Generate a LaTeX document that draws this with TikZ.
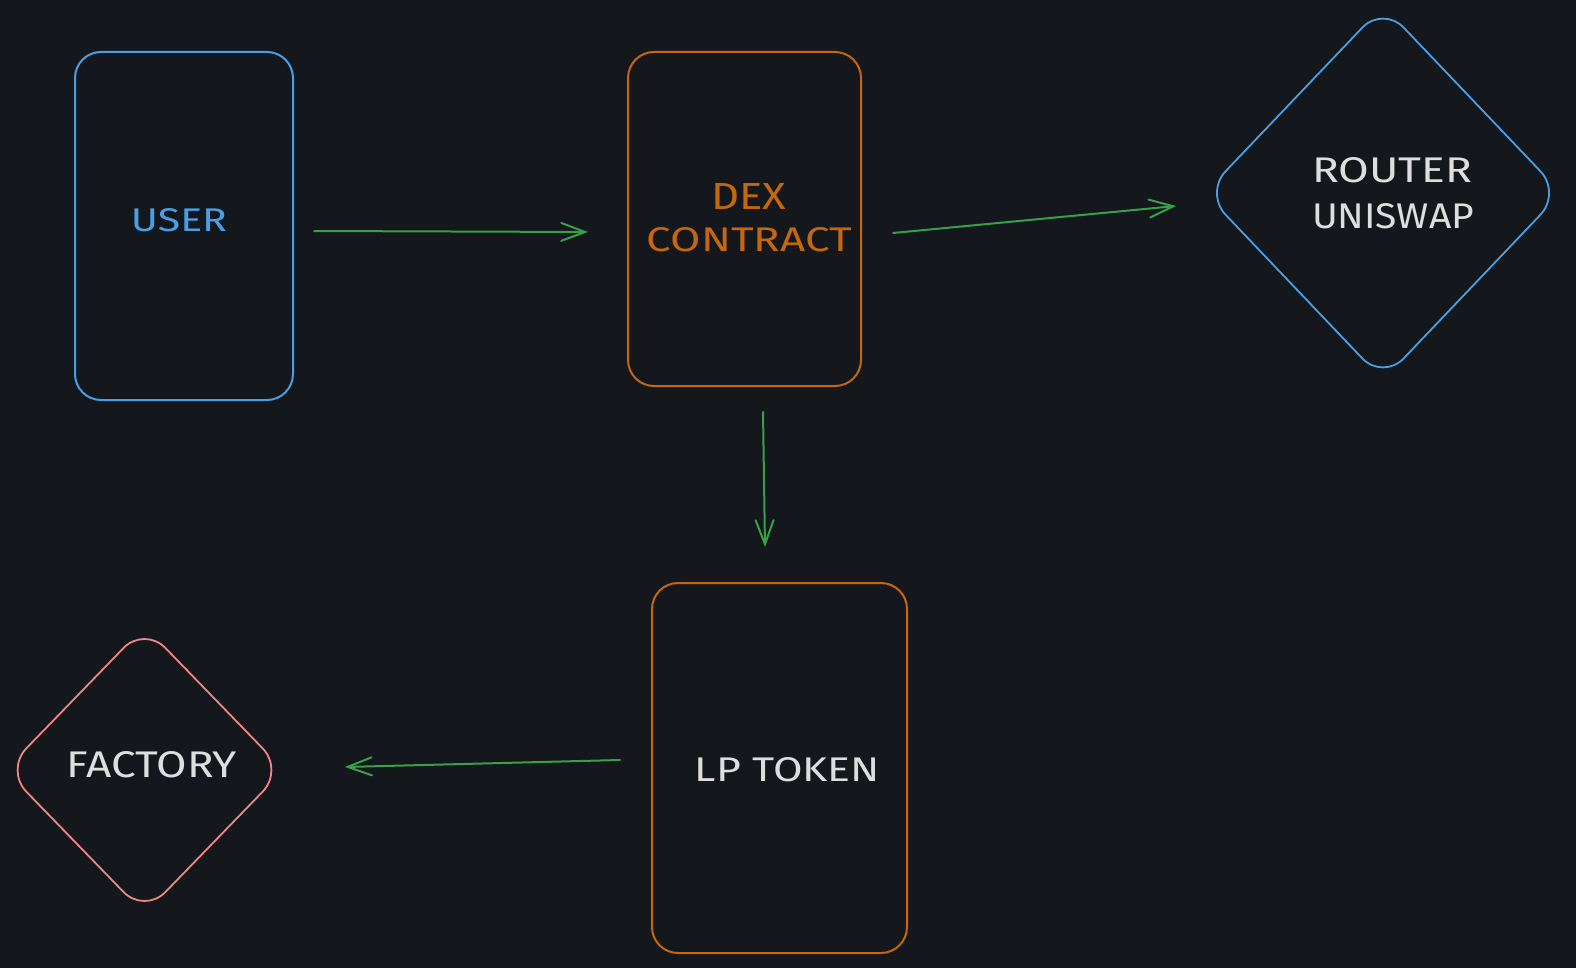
\documentclass[tikz,border=0pt]{standalone}
\usepackage{fontspec}
\setmainfont{Fira Sans}
\usetikzlibrary{shapes.geometric,arrows.meta,calc}
\definecolor{bg}{HTML}{14171C}
\definecolor{exblue}{HTML}{4A9FE4}
\definecolor{exorange}{HTML}{C4670D}
\definecolor{exred}{HTML}{F08585}
\definecolor{exgreen}{HTML}{38A047}
\definecolor{extext}{HTML}{DEDEDE}
\newcommand{\fitlabel}[3]{\resizebox{#1pt}{#2pt}{#3}}
\tikzset{
  boxshape/.style={draw, line width=2pt, rounded corners=26pt, inner sep=0pt},
  diashape/.style={draw, diamond, line width=1.8pt, rounded corners=30pt, inner sep=0pt},
  lbl/.style={inner sep=0pt, font=\mdseries, align=center},
  arr/.style={draw=exgreen, line width=2pt, line cap=round,
    -{Straight Barb[length=24pt,width=18pt,line width=2pt,line cap=round]}},
}
\begin{document}
\begin{tikzpicture}[x=1pt,y=-1pt]
\fill[bg] (0,0) rectangle (1576,968);
\useasboundingbox (0,0) rectangle (1576,968);
% shapes
\node[boxshape, draw=exblue, minimum width=218pt, minimum height=348pt] (user) at (184,226) {};
\node[boxshape, draw=exorange, minimum width=233pt, minimum height=334pt] (dex) at (744.5,219) {};
\node[diashape, draw=exblue, minimum width=357pt, minimum height=375pt] (router) at (1383,193) {};
\node[boxshape, draw=exorange, minimum width=255pt, minimum height=370pt] (lp) at (779.5,768) {};
\node[diashape, draw=exred, minimum width=279pt, minimum height=288pt] (factory) at (144.5,770) {};
% labels
\node[lbl, text=exblue] (tuser) at (179,220.5) {\fitlabel{96}{23}{USER}};
\node[lbl, text=exorange] (tdex1) at (748.5,196) {\fitlabel{75}{26}{DEX}};
\node[lbl, text=exorange] (tdex2) at (749.5,240) {\fitlabel{205}{24}{CONTRACT}};
\node[lbl, text=extext] (trouter1) at (1392,170.5) {\fitlabel{160}{25}{ROUTER}};
\node[lbl, text=extext] (trouter2) at (1393,216.5) {\fitlabel{162}{25}{UNISWAP}};
\node[lbl, text=extext] (tlp) at (787.5,770) {\fitlabel{185}{24}{LP TOKEN}};
\node[lbl, text=extext] (tfactory) at (152,765) {\fitlabel{170}{26}{FACTORY}};
% connectors
\draw[arr] ($(user.east)+(20,5)$) -- ($(dex.west)+(-39,13)$);
\draw[arr] ($(dex.east)+(31,14)$) -- ($(router.west)+(-27.5,13)$);
\draw[arr] ($(dex.south)+(18.5,25)$) -- ($(lp.north)+(-14.5,-35)$);
\draw[arr] ($(lp.west)+(-31,-8)$) -- ($(factory.east)+(60,-3)$);
\end{tikzpicture}
\end{document}
